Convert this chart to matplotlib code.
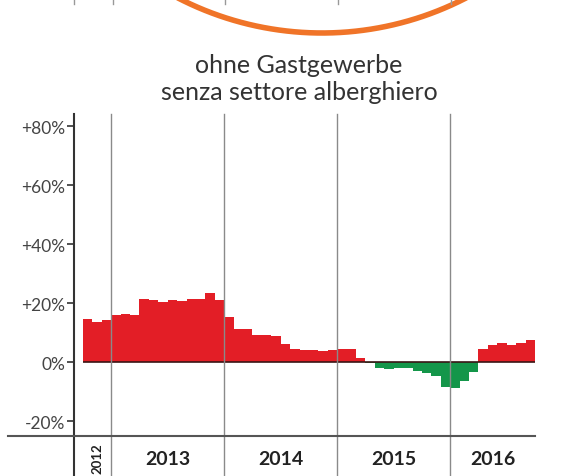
import numpy as np
import matplotlib
matplotlib.use("Agg")
import matplotlib.pyplot as plt
from matplotlib.lines import Line2D

# monthly change, Oct 2012 - Sep 2016 (%)
werte_2012 = [14.7, 13.6, 14.3]
werte_2013 = [16.2, 16.4, 16.0, 21.4, 21.0, 20.6, 21.0, 20.8, 21.4, 21.4, 23.6, 21.0]
werte_2014 = [15.5, 11.4, 11.4, 9.2, 9.2, 8.8, 6.1, 4.6, 4.3, 4.1, 3.7, 4.2]
werte_2015 = [4.6, 4.6, 1.4, -0.3, -2.1, -2.4, -1.9, -2.1, -2.9, -3.7, -4.6, -8.5]
werte_2016 = [-8.6, -6.2, -3.3, 4.5, 6.0, 6.5, 5.8, 6.5, 7.5]

jahre = ["2012", "2013", "2014", "2015", "2016"]
y_ticks = [-20, 0, 20, 40, 60, 80]
y_labels = ["-20%", "0%", "+20%", "+40%", "+60%", "+80%"]

titel = "ohne Gastgewerbe\nsenza settore alberghiero"

rot = "#e31e26"
gruen = "#14964a"

plt.rcParams['font.family'] = ['Lato', 'DejaVu Sans']

serien = [werte_2012, werte_2013, werte_2014, werte_2015, werte_2016]
werte = np.concatenate(serien)
x = np.arange(len(werte))
farben = [rot if v >= 0 else gruen for v in werte]

W, H = 562, 477
fig = plt.figure(figsize=(W / 100, H / 100), dpi=100)
ax = fig.add_axes([73.5 / W, 1 - 436.7 / H, 461.5 / W, (436.7 - 115) / H])

ax.bar(x, werte, width=1.0, align='edge', color=farben, linewidth=0)
ax.plot([0, len(werte)], [0, 0], color="#3a1515", lw=1.2, solid_capstyle='butt')

ax.set_xlim(-1, len(werte))
ax.set_ylim(-24.9, 84.2)

for s in ax.spines.values():
    s.set_visible(False)

# y axis
ax.set_yticks(y_ticks)
ax.set_yticklabels(y_labels, fontsize=12.5, color="#444444")
ax.tick_params(axis='y', length=5, width=1.2, color="#333333", pad=1)
ax.set_xticks([])
ax.plot([-1, -1], [-0.13, 1], transform=ax.get_xaxis_transform(),
        color="#333333", lw=1.5, clip_on=False)

# year separators
grenzen = np.cumsum([len(s) for s in serien])[:-1]
for g in grenzen:
    ax.plot([g, g], [-0.13, 1], transform=ax.get_xaxis_transform(),
            color="#8a8a8a", lw=1.0, clip_on=False)

# bottom line
fig.add_artist(Line2D([8 / W, 535 / W], [1 - 436.7 / H, 1 - 436.7 / H],
                      color="#555555", lw=1.5))

# year labels
start = 0
for jahr, s in zip(jahre, serien):
    mitte = start + len(s) / 2
    if jahr == "2012":
        ax.text(mitte, -0.067, jahr, transform=ax.get_xaxis_transform(),
                rotation=90, ha='center', va='center', fontsize=9.5,
                fontweight='bold', color="#222222")
    else:
        ax.text(mitte, -0.071, jahr, transform=ax.get_xaxis_transform(),
                ha='center', va='center', fontsize=14,
                fontweight='bold', color="#222222")
    start += len(s)

# title
fig.text(299 / W, 1 - 79 / H, titel, ha='center', va='center',
         fontsize=18, color="#333333", linespacing=1.2)

# remains of the chart above: orange ring and tick marks
t = np.linspace(np.radians(55), np.radians(125), 200)
cx, cy, r = 322, -279.5, 313.5
fig.add_artist(Line2D((cx + r * np.cos(t)) / W, 1 - (cy + r * np.sin(t)) / H,
                      color="#f07428", lw=4))
for px in [74, 113, 225, 338, 451]:
    fig.add_artist(Line2D([px / W, px / W], [1, 1 - 5 / H], color="#999999", lw=1))

fig.savefig("out.png", dpi=100)
